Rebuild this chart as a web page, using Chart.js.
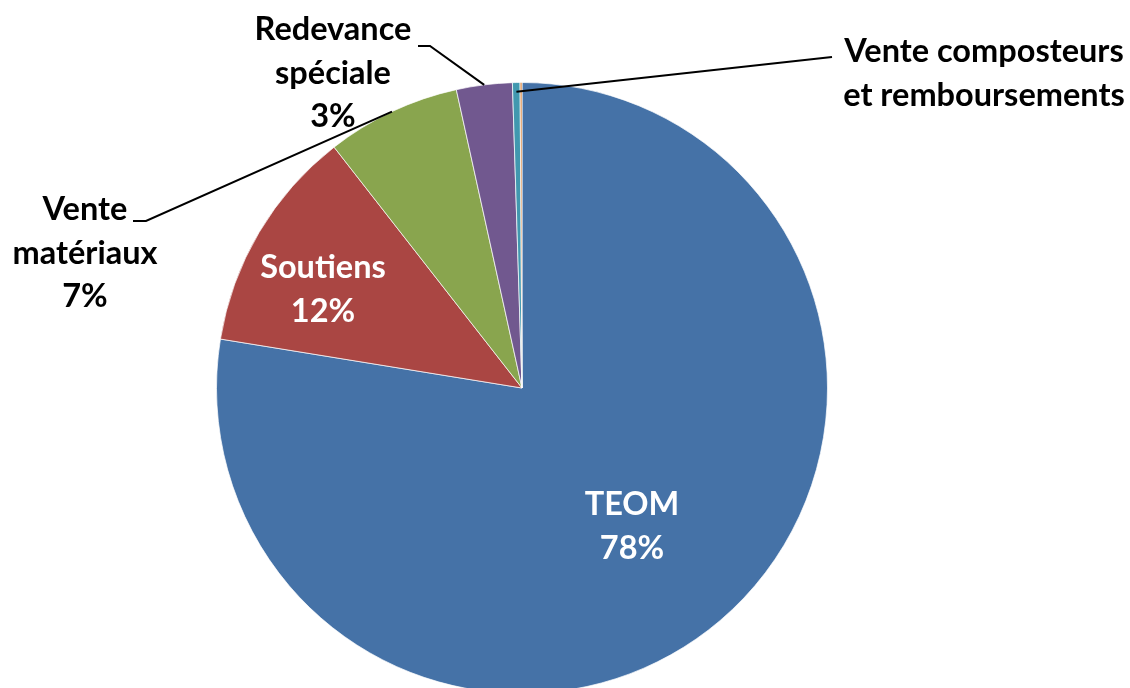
<!DOCTYPE html>
<html>
<head>
<meta charset="utf-8">
<script src="https://cdn.jsdelivr.net/npm/chart.js@4"></script>
<style>
  html, body { margin: 0; padding: 0; background: #fff; overflow: hidden; }
  #wrap { width: 1130px; height: 688px; overflow: hidden; }
</style>
</head>
<body>
<div id="wrap"><canvas id="pieChart" width="1130" height="700"></canvas></div>
<script>
// Recettes (parts en %)
const categories = ["TEOM", "Soutiens", "Vente matériaux", "Redevance spéciale", "Vente composteurs", "Remboursements"];
const values = [77.6, 11.9, 7.1, 2.95, 0.4, 0.1];
const sliceColors = ["#4572A7", "#AA4643", "#89A54E", "#71588F", "#4198AF", "#DB843D"];

// label text per slice (null = no label)
const labelLines = [
  ["TEOM", "78%"],
  ["Soutiens", "12%"],
  ["Vente", "matériaux", "7%"],
  ["Redevance", "spéciale", "3%"],
  ["Vente composteurs", "et remboursements"],
  null,
];

const FONT = "bold 32.5px Lato, 'Open Sans', sans-serif";
const LINE_H = 43.5;

// label layout: inside labels are white, outside ones black with a leader line
const labelLayout = [
  { x: 632, y: 505, color: "#fff" },
  { x: 323, y: 268, color: "#fff" },
  { x: 85, y: 210, color: "#000", leader: [[133, 221], [146, 221]], r: 1.0 },
  { x: 333, y: 30, color: "#000", leader: [[418, 46], [430, 46]], r: 1.0 },
  { x: 984, y: 52, color: "#000", leader: [[832, 57]], r: 0.97 },
  null,
];

const labelPlugin = {
  id: "pieLabels",
  afterDatasetsDraw(chart) {
    const ctx = chart.ctx;
    const arcs = chart.getDatasetMeta(0).data;
    ctx.save();
    ctx.font = FONT;
    ctx.textAlign = "center";
    ctx.textBaseline = "middle";
    arcs.forEach((arc, i) => {
      const lay = labelLayout[i];
      if (!lay) return;
      if (lay.leader) {
        const mid = (arc.startAngle + arc.endAngle) / 2;
        const ex = arc.x + Math.cos(mid) * arc.outerRadius * lay.r;
        const ey = arc.y + Math.sin(mid) * arc.outerRadius * lay.r;
        ctx.beginPath();
        ctx.strokeStyle = "#000";
        ctx.lineWidth = 2;
        ctx.moveTo(lay.leader[0][0], lay.leader[0][1]);
        for (let k = 1; k < lay.leader.length; k++) ctx.lineTo(lay.leader[k][0], lay.leader[k][1]);
        ctx.lineTo(ex, ey);
        ctx.stroke();
      }
      ctx.fillStyle = lay.color;
      labelLines[i].forEach((t, k) => {
        ctx.fillText(t, lay.x, lay.y + k * LINE_H);
      });
    });
    ctx.restore();
  },
};

new Chart(document.getElementById("pieChart"), {
  type: "pie",
  data: {
    labels: categories,
    datasets: [
      {
        data: values,
        backgroundColor: sliceColors,
        borderColor: "rgba(255, 255, 255, 0.7)",
        borderWidth: 1,
      },
    ],
  },
  options: {
    responsive: false,
    animation: false,
    layout: { padding: { left: 216, right: 302, top: 82, bottom: 6 } },
    plugins: {
      legend: { display: false },
      tooltip: { enabled: false },
    },
  },
  plugins: [labelPlugin],
});
</script>
</body>
</html>
